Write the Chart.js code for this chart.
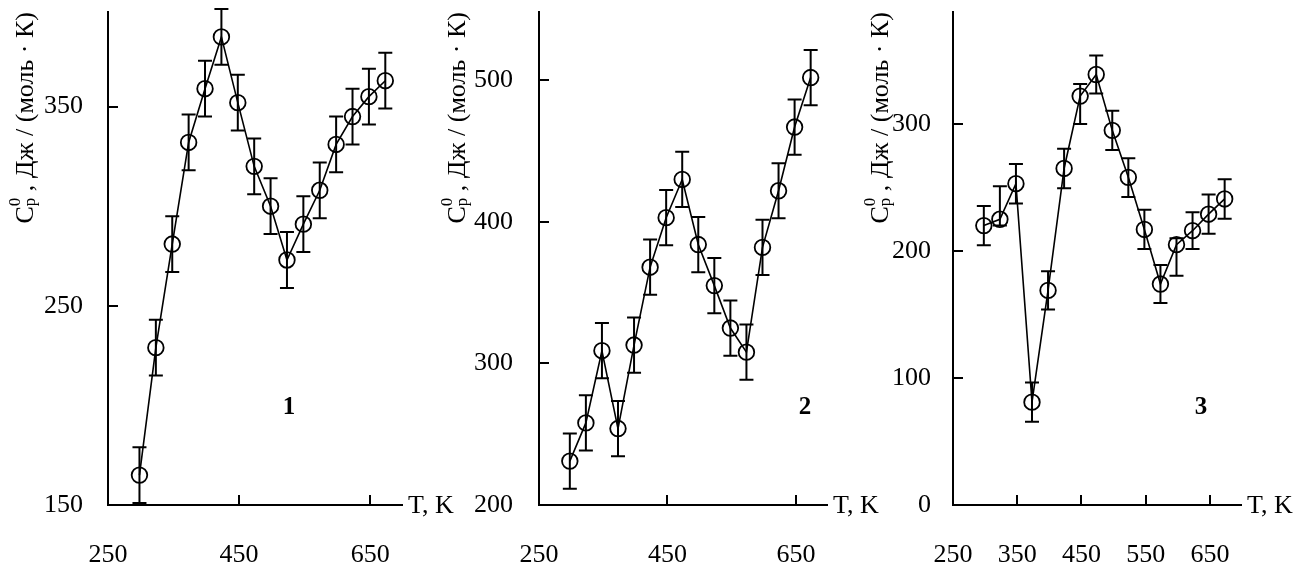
<!DOCTYPE html>
<html>
<head>
<meta charset="utf-8">
<script src="https://cdn.jsdelivr.net/npm/chart.js@4.4.1/dist/chart.umd.min.js"></script>
<style>
  html, body { margin: 0; padding: 0; background: #fff; }
  #wrap { position: relative; width: 1307px; height: 568px; overflow: hidden; }
  canvas { position: absolute; top: 0; }
</style>
</head>
<body>
<div id="wrap">
  <canvas id="c1" width="460" height="568" style="left:0px"></canvas>
  <canvas id="c2" width="455" height="568" style="left:430px"></canvas>
  <canvas id="c3" width="447" height="568" style="left:860px"></canvas>
</div>
<script>
// temperatures, K (same for all three samples)
const temps = [298, 323, 348, 373, 398, 423, 448, 473, 498, 523, 548, 573, 598, 623, 648, 673];

// sample 1
const cp1 = [165, 229, 281, 332, 359, 385, 352, 320, 300, 273, 291, 308, 331, 345, 355, 363];
const err1 = [14, 14, 14, 14, 14, 14, 14, 14, 14, 14, 14, 14, 14, 14, 14, 14];

// sample 2
const cp2 = [231, 258, 309, 254, 313, 368, 403, 430, 384, 355, 325, 308, 382, 422, 467, 502];
const err2 = [19.5, 19.5, 19.5, 19.5, 19.5, 19.5, 19.5, 19.5, 19.5, 19.5, 19.5, 19.5, 19.5, 19.5, 19.5, 19.5];

// sample 3 (some error bars are not centred on the point)
const cp3 = [220, 225, 253, 81, 169, 265, 322, 339, 295, 258, 217, 174, 205, 216, 229, 241];
const err3Up = [15.5, 26, 15.5, 15.5, 15, 15.5, 9.5, 15, 15.5, 15, 15.5, 15, 5, 14.5, 15.5, 15.5];
const err3Down = [15.5, 5, 15.5, 15.5, 15, 15.5, 22, 15, 15.5, 15.5, 15.5, 15, 24.5, 14.5, 15.5, 15.5];

// tick labels
const xTicksA = [250, 450, 650];
const xTicksB = [250, 350, 450, 550, 650];
const yTicks1 = [150, 250, 350];
const yTicks2 = [200, 300, 400, 500];
const yTicks3 = [0, 100, 200, 300];

const xTitle = 'T, K';
const SERIF = '"Liberation Serif", "Times New Roman", serif';

// page layout of each panel: canvas + plot area [left, top, right, bottom]
const panels = [
  { id: 'c1', left: 0, width: 460, area: [108, 11, 403, 505], yMin: 150, yMax: 398,
    xTicks: xTicksA, yTicks: yTicks1, values: cp1, up: err1, down: err1,
    tickPad: 25, titleX: 33, mark: '1', markAt: [526, 199] },
  { id: 'c2', left: 430, width: 455, area: [539, 11, 828, 505], yMin: 200, yMax: 549,
    xTicks: xTicksA, yTicks: yTicks2, values: cp2, up: err2, down: err2,
    tickPad: 26, titleX: 465, mark: '2', markAt: [664, 269] },
  { id: 'c3', left: 860, width: 447, area: [953, 11, 1242, 505], yMin: 0, yMax: 389,
    xTicks: xTicksB, yTicks: yTicks3, values: cp3, up: err3Up, down: err3Down,
    tickPad: 22, titleX: 888, mark: '3', markAt: [636, 77] }
];

function drawYTitle(ctx, bx, topY) {
  const big = 26, small = 17;
  const parts = [
    { t: 'C', size: big, dy: 0, adv: true },
    { t: 'p', size: small, dy: 2, adv: false },
    { t: '0', size: small, dy: -13, adv: true },
    { t: ' , Дж / (моль · К)', size: big, dy: 0, adv: true }
  ];
  ctx.save();
  ctx.translate(bx, topY);
  ctx.rotate(-Math.PI / 2);
  ctx.fillStyle = '#000';
  ctx.textBaseline = 'alphabetic';
  ctx.textAlign = 'left';
  let total = 0, pending = 0;
  parts.forEach(s => {
    ctx.font = s.size + 'px ' + SERIF;
    const w = ctx.measureText(s.t).width;
    pending = Math.max(pending, w);
    if (s.adv) { total += pending; pending = 0; }
  });
  let xx = -total;
  pending = 0;
  parts.forEach(s => {
    ctx.font = s.size + 'px ' + SERIF;
    const w = ctx.measureText(s.t).width;
    ctx.fillText(s.t, xx, s.dy);
    pending = Math.max(pending, w);
    if (s.adv) { xx += pending; pending = 0; }
  });
  ctx.restore();
}

function decor(p) {
  return {
    id: 'decor' + p.mark,
    afterDatasetsDraw(chart) {
      const { ctx, chartArea: a, scales: { x, y } } = chart;
      ctx.save();
      ctx.strokeStyle = '#000';
      ctx.lineWidth = 2;

      // axes
      ctx.beginPath();
      ctx.moveTo(a.left, a.top);
      ctx.lineTo(a.left, a.bottom);
      ctx.lineTo(a.right, a.bottom);
      ctx.stroke();

      // inward tick marks
      ctx.beginPath();
      p.xTicks.forEach(v => {
        if (v === x.min) return;
        const px = Math.round(x.getPixelForValue(v));
        ctx.moveTo(px, a.bottom);
        ctx.lineTo(px, a.bottom - 10);
      });
      p.yTicks.forEach(v => {
        if (v === y.min) return;
        const py = Math.round(y.getPixelForValue(v));
        ctx.moveTo(a.left, py);
        ctx.lineTo(a.left + 10, py);
      });
      ctx.stroke();

      // error bars
      ctx.lineWidth = 2;
      ctx.beginPath();
      temps.forEach((t, i) => {
        const px = x.getPixelForValue(t);
        const top = y.getPixelForValue(p.values[i] + p.up[i]);
        const bot = Math.min(y.getPixelForValue(p.values[i] - p.down[i]), a.bottom);
        ctx.moveTo(px, top);
        ctx.lineTo(px, bot);
        ctx.moveTo(px - 7, top);
        ctx.lineTo(px + 7, top);
        if (bot < a.bottom - 1) {
          ctx.moveTo(px - 7, bot);
          ctx.lineTo(px + 7, bot);
        }
      });
      ctx.stroke();

      // axis name, sample number, y title
      ctx.fillStyle = '#000';
      ctx.font = '26px ' + SERIF;
      ctx.textAlign = 'left';
      ctx.textBaseline = 'middle';
      ctx.fillText(xTitle, a.right + 5, a.bottom + 1);

      ctx.font = 'bold 25px ' + SERIF;
      ctx.textAlign = 'center';
      ctx.fillText(p.mark, x.getPixelForValue(p.markAt[0]), y.getPixelForValue(p.markAt[1]));

      drawYTitle(ctx, p.titleX - p.left, 12);
      ctx.restore();
    }
  };
}

function makeChart(p) {
  const areaL = p.area[0] - p.left;
  const areaR = p.area[2] - p.left;
  const zeroPad = s => { s.paddingLeft = 0; s.paddingRight = 0; s.paddingTop = 0; s.paddingBottom = 0; };
  new Chart(document.getElementById(p.id), {
    type: 'line',
    data: {
      datasets: [{
        data: temps.map((t, i) => ({ x: t, y: p.values[i] })),
        borderColor: '#000',
        borderWidth: 1.6,
        pointRadius: 7.8,
        pointHoverRadius: 7.8,
        pointBorderWidth: 1.8,
        pointBorderColor: '#000',
        pointBackgroundColor: 'rgba(0,0,0,0)',
        tension: 0,
        fill: false,
        clip: false
      }]
    },
    options: {
      responsive: false,
      animation: false,
      devicePixelRatio: 1,
      events: [],
      layout: { autoPadding: false, padding: { left: 0, top: p.area[1], right: p.width - areaR, bottom: 0 } },
      plugins: { legend: { display: false }, tooltip: { enabled: false } },
      scales: {
        x: {
          type: 'linear', min: 250, max: 700,
          grid: { display: false, drawTicks: false },
          border: { display: false },
          afterBuildTicks: s => { s.ticks = p.xTicks.map(v => ({ value: v })); },
          afterFit: s => { s.height = 568 - p.area[3]; zeroPad(s); },
          ticks: { font: { family: SERIF, size: 26 }, color: '#000', padding: 35, maxRotation: 0, autoSkip: false }
        },
        y: {
          type: 'linear', min: p.yMin, max: p.yMax,
          grid: { display: false, drawTicks: false },
          border: { display: false },
          afterBuildTicks: s => { s.ticks = p.yTicks.map(v => ({ value: v })); },
          afterFit: s => { s.width = areaL; zeroPad(s); },
          ticks: { font: { family: SERIF, size: 26 }, color: '#000', padding: p.tickPad, autoSkip: false }
        }
      }
    },
    plugins: [decor(p)]
  });
}

panels.forEach(makeChart);
</script>
</body>
</html>
